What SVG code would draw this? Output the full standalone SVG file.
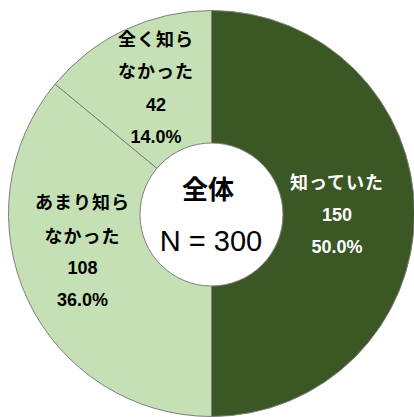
<svg xmlns="http://www.w3.org/2000/svg" width="414" height="417" viewBox="0 0 414 417">
<style>
.slice{stroke:#7f7f7f;stroke-width:1}
.dark{fill:#3a5724}
.light{fill:#c5e0b4}
.lbl{font-family:"Liberation Sans","Noto Sans CJK JP",sans-serif;font-weight:bold;font-size:18px;text-anchor:middle;dominant-baseline:central}
.jp{letter-spacing:1px}
.w{fill:#ffffff}
.k{fill:#000000}
.ctr{font-family:"Liberation Sans","Noto Sans CJK JP",sans-serif;text-anchor:middle;dominant-baseline:central;fill:#000}
</style>
<rect width="414" height="417" fill="#ffffff"/>
<g id="slice-shitteita">
<path class="slice dark" d="M211.5 213.5 L211.5 10.5 A203 203 0 0 1 211.5 416.5 Z"/>
<text class="lbl jp w" x="337" y="183">知っていた</text>
<text class="lbl w" x="337" y="215">150</text>
<text class="lbl w" x="337" y="247">50.0%</text>
</g>
<g id="slice-amari">
<path class="slice light" d="M211.5 213.5 L211.5 416.5 A203 203 0 0 1 55.1 84.1 Z"/>
<text class="lbl jp k" x="82.5" y="203">あまり知ら</text>
<text class="lbl jp k" x="82.5" y="237">なかった</text>
<text class="lbl k" x="82.5" y="268">108</text>
<text class="lbl k" x="82.5" y="300">36.0%</text>
</g>
<g id="slice-mattaku">
<path class="slice light" d="M211.5 213.5 L55.1 84.1 A203 203 0 0 1 211.5 10.5 Z"/>
<text class="lbl jp k" x="156" y="40">全く知ら</text>
<text class="lbl jp k" x="156" y="72">なかった</text>
<text class="lbl k" x="156" y="105">42</text>
<text class="lbl k" x="156" y="137">14.0%</text>
</g>
<g id="center">
<circle cx="211.5" cy="214.5" r="71.5" fill="#ffffff" stroke="#7f7f7f" stroke-width="1"/>
<text class="ctr" x="208" y="190" font-size="26" font-weight="bold">全体</text>
<text class="ctr" x="211" y="241" font-size="29">N = 300</text>
</g>
<g id="connectors"></g>
</svg>
